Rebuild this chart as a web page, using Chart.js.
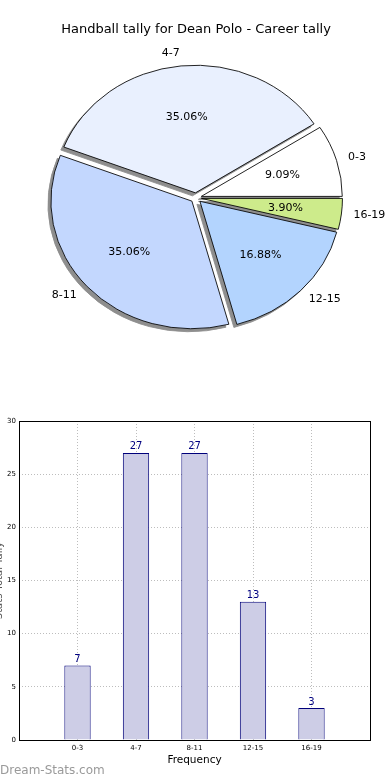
<!DOCTYPE html>
<html>
<head>
<meta charset="utf-8">
<title>Handball tally for Dean Polo</title>
<script src="https://cdn.jsdelivr.net/npm/chart.js@4.4.1/dist/chart.umd.min.js"></script>
<style>
  html, body { margin: 0; padding: 0; background: #fff; }
  body { position: relative; width: 390px; height: 780px; overflow: hidden; }
  #pieBox { position: absolute; left: 0; top: 0; width: 390px; height: 400px; }
  #barBox { position: absolute; left: -7px; top: 400px; width: 397px; height: 380px; }
  #mark {
    position: absolute; left: 0; top: 763px;
    font: 12px "DejaVu Sans", sans-serif; color: #9a9a9a;
  }
</style>
</head>
<body>
<div id="pieBox"><canvas id="pieChart"></canvas></div>
<div id="barBox"><canvas id="barChart"></canvas></div>
<div id="mark">Dream-Stats.com</div>

<script>
// data
const categories = ['0-3', '4-7', '8-11', '12-15', '16-19'];
const tallies = [7, 27, 27, 13, 3];
const yTicks = [0, 5, 10, 15, 20, 25, 30];

const sliceColors = ['#ffffff', '#e9f0fe', '#c3d7fe', '#b3d4fe', '#cdeb8b'];
const FONT = '"DejaVu Sans", sans-serif';
const squash = 0.905;  // pie in the original is a bit flatter than a circle
const explode = 5.5;   // px every wedge is pushed out along its middle

Chart.defaults.font.family = FONT;
Chart.defaults.color = '#000';
Chart.defaults.animation = false;

// Chart.js goes clockwise, matplotlib went counter-clockwise from 3 o'clock,
// so feed the slices in reverse order starting at 3 o'clock
const pieLabels = categories.slice().reverse();
const pieValues = tallies.slice().reverse();
const pieColors = sliceColors.slice().reverse();
const total = tallies.reduce((a, b) => a + b, 0);

const pieDecor = {
    id: 'pieDecor',
    beforeDatasetDraw(chart, args) {
        const ctx = chart.ctx;
        const arcs = args.meta.data;
        const c = arcs[0];
        ctx.save();
        ctx.translate(c.x, c.y);
        ctx.scale(1, squash);
        ctx.translate(-c.x, -c.y);
        const pass = (dx, dy, shade) => arcs.forEach(arc => {
            const mid = (arc.startAngle + arc.endAngle) / 2;
            const real = arc.options;
            ctx.save();
            ctx.translate(Math.cos(mid) * explode + dx, Math.sin(mid) * explode + dy);
            if (shade) {
                const o = Object.create(real);
                o.backgroundColor = shade;
                o.borderColor = shade;
                arc.options = o;
            }
            arc.draw(ctx);
            arc.options = real;
            ctx.restore();
        });
        pass(-3, 3 / squash, '#8e8e8e');  // shadow under everything
        pass(0, 0, null);
        ctx.restore();
        return false;
    },
    afterDatasetsDraw(chart) {
        const ctx = chart.ctx;
        const meta = chart.getDatasetMeta(0);
        ctx.save();
        ctx.font = '11px ' + FONT;
        ctx.fillStyle = '#000';
        ctx.textBaseline = 'middle';
        meta.data.forEach((arc, i) => {
            const mid = (arc.startAngle + arc.endAngle) / 2;
            const r = arc.outerRadius;
            const c = Math.cos(mid), s = Math.sin(mid);
            const ox = arc.x + c * explode;
            const oy = arc.y + s * explode * squash;
            const pct = (pieValues[i] / total * 100).toFixed(2) + '%';
            ctx.textAlign = 'center';
            ctx.fillText(pct, ox + c * r * 0.6, oy + s * r * 0.6 * squash);
            ctx.textAlign = c >= 0 ? 'left' : 'right';
            ctx.fillText(pieLabels[i], ox + c * r * 1.1 - (c >= 0 ? 2 : 0), oy + s * r * 1.1 * squash);
        });
        ctx.restore();
    }
};

new Chart(document.getElementById('pieChart'), {
    type: 'pie',
    data: {
        labels: pieLabels,
        datasets: [{
            data: pieValues,
            backgroundColor: pieColors,
            borderColor: '#000',
            borderWidth: 0.9
        }]
    },
    options: {
        responsive: true,
        maintainAspectRatio: false,
        rotation: 90,
        radius: 141,
        layout: { padding: { left: 2, bottom: 42 } },
        plugins: {
            legend: { display: false },
            tooltip: { enabled: false },
            title: {
                display: true,
                text: 'Handball tally for Dean Polo - Career tally',
                font: { size: 13, weight: 'normal' },
                color: '#000',
                padding: { top: 22, bottom: 0 }
            }
        }
    },
    plugins: [pieDecor]
});

// bar chart: frame around the plot and value labels over the bars
const barDecor = {
    id: 'barDecor',
    afterDatasetsDraw(chart) {
        const ctx = chart.ctx;
        const meta = chart.getDatasetMeta(0);
        ctx.save();
        ctx.font = '10px ' + FONT;
        ctx.fillStyle = '#000080';
        ctx.textAlign = 'center';
        ctx.textBaseline = 'bottom';
        meta.data.forEach((bar, i) => {
            ctx.fillText(String(tallies[i]), bar.x, bar.y - 1);
        });
        ctx.restore();
    },
    afterDraw(chart) {
        const {ctx, chartArea: a} = chart;
        ctx.save();
        ctx.strokeStyle = '#000';
        ctx.lineWidth = 1;
        ctx.strokeRect(Math.round(a.left) + 0.5, Math.round(a.top) + 0.5,
            Math.round(a.right - a.left), Math.round(a.bottom - a.top));
        ctx.restore();
    }
};

new Chart(document.getElementById('barChart'), {
    type: 'bar',
    data: {
        datasets: [{
            data: tallies.map((v, i) => ({ x: i, y: v })),
            backgroundColor: '#cdcde6',
            borderColor: '#00007a',
            borderWidth: 1,
            barPercentage: 0.45,
            categoryPercentage: 1
        }]
    },
    options: {
        responsive: true,
        maintainAspectRatio: false,
        layout: { padding: { top: 21, right: 20, left: 0, bottom: 0 } },
        plugins: {
            legend: { display: false },
            tooltip: { enabled: false }
        },
        scales: {
            x: {
                type: 'linear',
                offset: false,
                min: -1,
                max: categories.length,
                afterBuildTicks: (scale) => {
                    scale.ticks = categories.map((c, i) => ({ value: i }));
                },
                afterFit: (scale) => { scale.height = 40; },
                ticks: {
                    autoSkip: false,
                    maxRotation: 0,
                    padding: 4,
                    font: { size: 7 },
                    callback: (v) => categories[v]
                },
                grid: { color: '#bdbdbd', drawTicks: false, offset: false },
                border: { display: false, dash: [1, 2] },
                title: {
                    display: true,
                    text: 'Frequency',
                    font: { size: 10.5 },
                    padding: { top: 0, bottom: 13 }
                }
            },
            y: {
                min: yTicks[0],
                max: yTicks[yTicks.length - 1],
                afterBuildTicks: (scale) => {
                    scale.ticks = yTicks.map(v => ({ value: v }));
                },
                afterFit: (scale) => { scale.width = 26; },
                ticks: { padding: 3, font: { size: 7 } },
                grid: { color: '#bdbdbd', drawTicks: false },
                border: { display: false, dash: [1, 2] },
                title: {
                    display: true,
                    text: 'Stats Total Tally',
                    font: { size: 10 },
                    color: '#555',
                    padding: 0
                }
            }
        }
    },
    plugins: [barDecor]
});
</script>
</body>
</html>
